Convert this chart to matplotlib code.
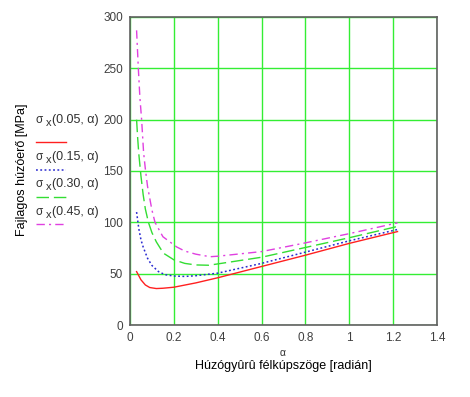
import matplotlib
matplotlib.use("Agg")
import matplotlib.pyplot as plt

plt.rcParams['font.family'] = ['Liberation Sans', 'DejaVu Sans']

# Data
x_005 = [0.03, 0.05, 0.07, 0.09, 0.12, 0.15, 0.2, 0.3, 0.4, 0.6, 0.8, 1.0, 1.22]
y_005 = [52, 44, 39, 36.5, 35.5, 35.8, 36.8, 41, 46, 57, 68, 79.5, 91]

x_015 = [0.03, 0.04, 0.05, 0.06, 0.08, 0.1, 0.13, 0.16, 0.2, 0.25, 0.3, 0.4, 0.6, 0.8, 1.0, 1.22]
y_015 = [110, 94, 83, 76, 65, 58, 52, 49, 47.7, 47.3, 48, 50.5, 60, 71, 82, 93]

x_030 = [0.03, 0.035, 0.04, 0.05, 0.06, 0.07, 0.084, 0.1, 0.12, 0.152, 0.2, 0.25, 0.3, 0.36, 0.4, 0.6, 0.8, 1.0, 1.22]
y_030 = [200, 182, 167, 145, 127, 113, 100, 90, 81, 70, 63.5, 60, 58.5, 58.2, 59.5, 66, 75.5, 85, 96]

x_045 = [0.03, 0.038, 0.045, 0.053, 0.062, 0.07, 0.08, 0.1, 0.114, 0.15, 0.213, 0.25, 0.3, 0.365, 0.4, 0.6, 0.8, 1.0, 1.22]
y_045 = [287, 250, 222, 200, 168, 152, 135, 112, 100, 86, 76, 72, 69, 66.5, 67, 71.5, 80, 89, 99.5]

legend_labels = ["0.05", "0.15", "0.30", "0.45"]
x_ticks = [0, 0.2, 0.4, 0.6, 0.8, 1, 1.2, 1.4]
x_tick_labels = ["0", "0.2", "0.4", "0.6", "0.8", "1", "1.2", "1.4"]
y_ticks = [0, 50, 100, 150, 200, 250, 300]

W, H = 470, 397
fig = plt.figure(figsize=(W / 100, H / 100), dpi=100)
ax = fig.add_axes([130 / W, 1 - 325 / H, (437 - 130) / W, (325 - 17) / H])

grid_c = '#33ee33'
styles = [
    dict(color='#ff2020', linestyle='-', lw=1.0),
    dict(color='#2a2ad0', linestyle=(0, (1.2, 1.6)), lw=1.1),
    dict(color='#33dd33', linestyle=(0, (9, 3.5)), lw=1.0),
    dict(color='#e040e0', linestyle=(0, (6, 3, 1.5, 3)), lw=1.0),
]
series = [(x_005, y_005), (x_015, y_015), (x_030, y_030), (x_045, y_045)]
for (xs, ys), st in zip(series, styles):
    ax.plot(xs, ys, **st, zorder=3)

ax.set_xlim(0, 1.4)
ax.set_ylim(0, 300)
ax.set_xticks(x_ticks)
ax.set_xticklabels(x_tick_labels)
ax.set_yticks(y_ticks)
ax.grid(True, color=grid_c, lw=1.0, zorder=1)
ax.set_axisbelow(True)
ax.tick_params(length=0, labelsize=8.5, labelcolor='#404040', pad=5)
for s in ax.spines.values():
    s.set_color('#606060')
    s.set_linewidth(1.2)

# x label: alpha and text
fig.text(283 / W, 1 - 353 / H, "α", ha='center', va='center', fontsize=7.5, color='#303030')
fig.text(283 / W, 1 - 366 / H, "Húzógyûrû félkúpszöge [radián]", ha='center', va='center',
         fontsize=9, color='#000000')

# y label
fig.text(22 / W, 1 - 170 / H, "Fajlagos húzóerő [MPa]", rotation=90, ha='center', va='center',
         fontsize=9, color='#000000')

# legend
text_y = [120, 157, 184, 212]
line_y = [142, 170, 197, 224]
for lab, ty, ly, st in zip(legend_labels, text_y, line_y, styles):
    fig.text(36 / W, 1 - ty / H, "σ", ha='left', va='center', fontsize=8.5, color='#303030')
    fig.text(46 / W, 1 - (ty + 3) / H, "x", ha='left', va='center', fontsize=8, color='#303030')
    fig.text(52 / W, 1 - ty / H, "(" + lab + ", α)", ha='left', va='center', fontsize=9, color='#303030')
    fig.add_artist(plt.Line2D([36 / W, 66 / W], [1 - ly / H, 1 - ly / H], transform=fig.transFigure, **st))

fig.savefig("out.png", dpi=100)
